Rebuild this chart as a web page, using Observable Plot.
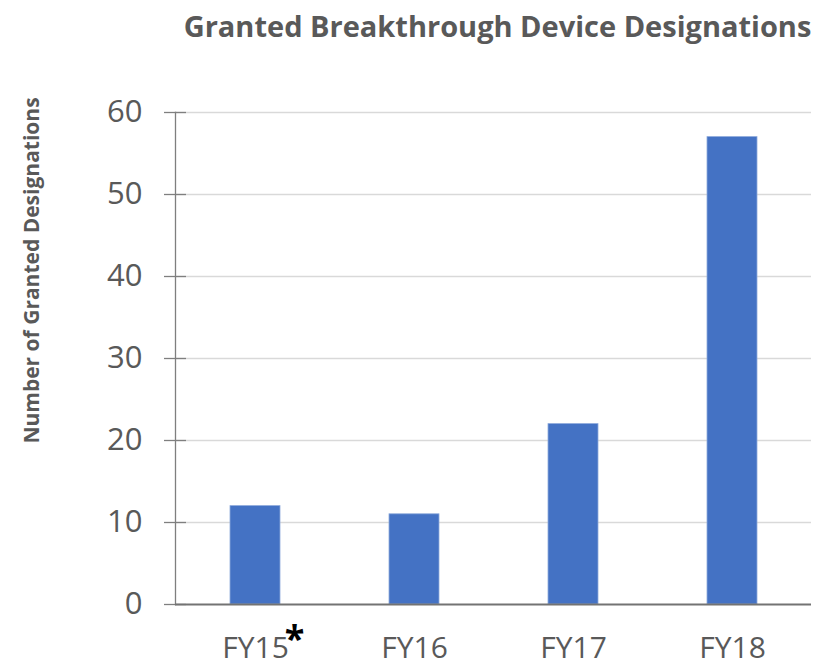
<!DOCTYPE html>
<html>
<head>
<meta charset="utf-8">
<script src="https://cdn.jsdelivr.net/npm/d3@7"></script>
<script src="https://cdn.jsdelivr.net/npm/@observablehq/plot@0.6"></script>
<style>
  html, body { margin: 0; padding: 0; background: #fff; }
  #chart svg { display: block; }
</style>
</head>
<body>
<div id="chart"></div>
<script>
const title = "Granted Breakthrough Device Designations";
const yTitle = "Number of Granted Designations";
const categories = ["FY15", "FY16", "FY17", "FY18"];
const values = [12, 11, 22, 57];
const footnoteCategories = ["FY15"];
const yTicks = [0, 10, 20, 30, 40, 50, 60];

const data = categories.map((c, i) => ({category: c, value: values[i]}));
const gray = "#595959";
const font = "'Open Sans', sans-serif";

const chart = Plot.plot({
  width: 824,
  height: 664,
  marginLeft: 175,
  marginRight: 13,
  marginTop: 112,
  marginBottom: 60,
  style: {fontFamily: font, background: "#fff", overflow: "visible"},
  x: {domain: categories, paddingInner: 0.686, paddingOuter: 0.343, label: null},
  y: {domain: [0, 60], label: null},
  marks: [
    Plot.gridY(yTicks.filter(d => d > 0), {stroke: "#d9d9d9", strokeOpacity: 1, strokeWidth: 1.3}),
    Plot.barY(data, {x: "category", y: "value", fill: "#4472C4", stroke: "#8eaadb", strokeWidth: 0.8}),
    Plot.axisY(yTicks, {tickSize: 11, tickPadding: 22, fontSize: 31, fill: gray, stroke: "#7f7f7f", strokeWidth: 1.3}),
    Plot.axisY(yTicks, {tickSize: -11, tickFormat: () => "", stroke: "#7f7f7f", strokeWidth: 1.3}),
    Plot.frame({anchor: "left", stroke: "#7f7f7f", strokeWidth: 1.3}),
    Plot.ruleY([0], {stroke: "#737373", strokeWidth: 2}),
    Plot.axisX({tickSize: 0, tickPadding: 32, fontSize: 30, fill: gray}),
    Plot.text(footnoteCategories, {x: d => d, text: () => "*", frameAnchor: "bottom", dx: 39, dy: 46, fontSize: 36, fontWeight: "bold", fill: "#000"}),
    Plot.text([title], {frameAnchor: "top", dx: 4, dy: -96, fontSize: 29, fontWeight: "bold", fill: gray}),
    Plot.text([yTitle], {frameAnchor: "left", textAnchor: "middle", dx: -143, dy: -88, rotate: -90, fontSize: 21, fontWeight: "bold", fill: gray})
  ]
});
document.getElementById("chart").appendChild(chart);
</script>
</body>
</html>
